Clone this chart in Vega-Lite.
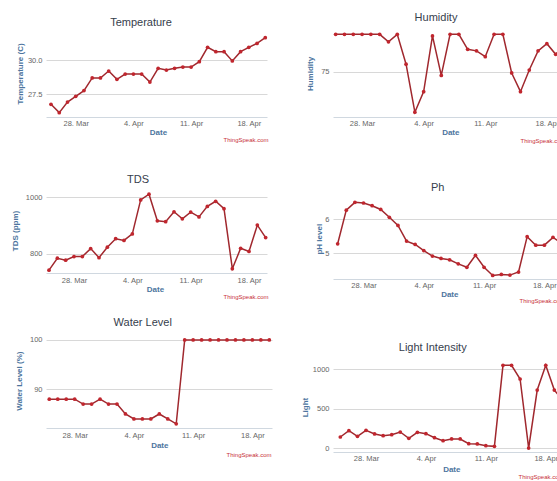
{
  "$schema": "https://vega.github.io/schema/vega-lite/v6.json",
  "autosize": {"type": "none"},
  "padding": {"left": 46, "top": 30, "right": 520, "bottom": 460},
  "background": "white",
  "datasets": {
    "sensor": [
      {"d": "2017-03-25T00:00:00", "temp": 26.74, "hum": 82, "tds": 743, "ph": 5.28, "water": 88, "light": 143},
      {"d": "2017-03-26T00:00:00", "temp": 26.13, "hum": 82, "tds": 785, "ph": 6.27, "water": 88, "light": 223},
      {"d": "2017-03-27T00:00:00", "temp": 26.91, "hum": 82, "tds": 778, "ph": 6.50, "water": 88, "light": 151},
      {"d": "2017-03-28T00:00:00", "temp": 27.33, "hum": 82, "tds": 791, "ph": 6.48, "water": 88, "light": 227},
      {"d": "2017-03-29T00:00:00", "temp": 27.75, "hum": 82, "tds": 791, "ph": 6.40, "water": 87, "light": 181},
      {"d": "2017-03-30T00:00:00", "temp": 28.68, "hum": 82, "tds": 819, "ph": 6.29, "water": 87, "light": 160},
      {"d": "2017-03-31T00:00:00", "temp": 28.68, "hum": 80.6, "tds": 787, "ph": 6.06, "water": 88, "light": 172},
      {"d": "2017-04-01T00:00:00", "temp": 29.19, "hum": 82, "tds": 824, "ph": 5.82, "water": 87, "light": 206},
      {"d": "2017-04-02T00:00:00", "temp": 28.58, "hum": 76.4, "tds": 854, "ph": 5.36, "water": 87, "light": 126},
      {"d": "2017-04-03T00:00:00", "temp": 28.97, "hum": 67.4, "tds": 848, "ph": 5.26, "water": 85, "light": 202},
      {"d": "2017-04-04T00:00:00", "temp": 28.97, "hum": 71.25, "tds": 871, "ph": 5.08, "water": 84, "light": 185},
      {"d": "2017-04-05T00:00:00", "temp": 28.97, "hum": 81.7, "tds": 991, "ph": 4.92, "water": 84, "light": 134},
      {"d": "2017-04-06T00:00:00", "temp": 28.38, "hum": 74.3, "tds": 1011, "ph": 4.85, "water": 84, "light": 97},
      {"d": "2017-04-07T00:00:00", "temp": 29.39, "hum": 82, "tds": 917, "ph": 4.81, "water": 85, "light": 118},
      {"d": "2017-04-08T00:00:00", "temp": 29.26, "hum": 82, "tds": 914, "ph": 4.69, "water": 84, "light": 118},
      {"d": "2017-04-09T00:00:00", "temp": 29.39, "hum": 79.2, "tds": 949, "ph": 4.59, "water": 83, "light": 59},
      {"d": "2017-04-10T00:00:00", "temp": 29.48, "hum": 78.9, "tds": 924, "ph": 4.94, "water": 100, "light": 55},
      {"d": "2017-04-11T00:00:00", "temp": 29.48, "hum": 77.8, "tds": 948, "ph": 4.59, "water": 100, "light": 34},
      {"d": "2017-04-12T00:00:00", "temp": 29.88, "hum": 82, "tds": 931, "ph": 4.35, "water": 100, "light": 25},
      {"d": "2017-04-13T00:00:00", "temp": 30.93, "hum": 82, "tds": 968, "ph": 4.38, "water": 100, "light": 1046},
      {"d": "2017-04-14T00:00:00", "temp": 30.61, "hum": 74.75, "tds": 986, "ph": 4.36, "water": 100, "light": 1046},
      {"d": "2017-04-15T00:00:00", "temp": 30.61, "hum": 71.25, "tds": 960, "ph": 4.45, "water": 100, "light": 874},
      {"d": "2017-04-16T00:00:00", "temp": 29.93, "hum": 75.3, "tds": 748, "ph": 5.49, "water": 100, "light": 4},
      {"d": "2017-04-17T00:00:00", "temp": 30.61, "hum": 78.9, "tds": 820, "ph": 5.24, "water": 100, "light": 735},
      {"d": "2017-04-18T00:00:00", "temp": 30.93, "hum": 80.25, "tds": 809, "ph": 5.24, "water": 100, "light": 1046},
      {"d": "2017-04-19T00:00:00", "temp": 31.22, "hum": 78.25, "tds": 902, "ph": 5.47, "water": 100, "light": 735},
      {"d": "2017-04-20T00:00:00", "temp": 31.64, "hum": 80, "tds": 858, "ph": 5.30, "water": 100, "light": 600}
    ]
  },
  "data": {"name": "sensor"},
  "columns": 2,
  "bounds": "flush",
  "spacing": {"row": 52, "column": 61},
  "concat": [
    {
      "width": 221, "height": 87,
      "title": {"text": "Temperature", "dx": -15.5, "dy": 2},
      "encoding": {
        "y": {"field": "temp", "type": "quantitative", "scale": {"domain": [25.809, 32.206], "nice": false, "zero": false},
              "axis": {"values": [27.5, 30], "format": ".1f", "title": "Temperature (C)", "titleX": -26, "titleY": 43.5}}
      },
      "layer": [
        {"mark": {"type": "line", "color": "#a0282e", "strokeWidth": 1.5},
         "encoding": {"x": {"field": "d", "type": "temporal",
           "scale": {"domain": [{"year": 2017, "month": 3, "date": 24, "hours": 9, "minutes": 27}, {"year": 2017, "month": 4, "date": 20, "hours": 5}], "nice": false},
           "axis": {"values": [{"year": 2017, "month": 3, "date": 28}, {"year": 2017, "month": 4, "date": 4}, {"year": 2017, "month": 4, "date": 11}, {"year": 2017, "month": 4, "date": 18}],
                    "format": "%-d. %b", "labelFlush": false, "labelPadding": 6, "title": "Date", "titleX": 112, "titleY": 15}}}},
        {"mark": {"type": "point", "filled": true, "color": "#c0262e", "size": 14, "opacity": 1},
         "encoding": {"x": {"field": "d", "type": "temporal",
           "scale": {"domain": [{"year": 2017, "month": 3, "date": 24, "hours": 9, "minutes": 27}, {"year": 2017, "month": 4, "date": 20, "hours": 5}], "nice": false},
           "axis": {"orient": "bottom", "labels": false, "domain": false, "title": "ThingSpeak.com", "titleX": 177, "titleY": 22, "titleAlign": "left", "titleColor": "#c8303a", "titleFontSize": 6, "titleFontWeight": "normal"}}}}
      ],
      "resolve": {"axis": {"x": "independent"}}
    },
    {
      "width": 238, "height": 87,
      "title": {"text": "Humidity", "dx": -16, "dy": -3},
      "encoding": {
        "y": {"field": "hum", "type": "quantitative", "scale": {"domain": [66.5, 82.81], "nice": false, "zero": false},
              "axis": {"values": [75], "title": "Humidity", "titleX": -23, "titleY": 43.5}}
      },
      "layer": [
        {"mark": {"type": "line", "color": "#a0282e", "strokeWidth": 1.5},
         "encoding": {"x": {"field": "d", "type": "temporal",
           "scale": {"domain": [{"year": 2017, "month": 3, "date": 24, "hours": 16, "minutes": 43}, {"year": 2017, "month": 4, "date": 20, "hours": 17, "minutes": 48}], "nice": false},
           "axis": {"values": [{"year": 2017, "month": 3, "date": 28}, {"year": 2017, "month": 4, "date": 4}, {"year": 2017, "month": 4, "date": 11}, {"year": 2017, "month": 4, "date": 18}],
                    "format": "%-d. %b", "labelFlush": false, "labelPadding": 6.3, "title": "Date", "titleX": 117.3, "titleY": 15.3}}}},
        {"mark": {"type": "point", "filled": true, "color": "#c0262e", "size": 14, "opacity": 1},
         "encoding": {"x": {"field": "d", "type": "temporal",
           "scale": {"domain": [{"year": 2017, "month": 3, "date": 24, "hours": 16, "minutes": 43}, {"year": 2017, "month": 4, "date": 20, "hours": 17, "minutes": 48}], "nice": false},
           "axis": {"orient": "bottom", "labels": false, "domain": false, "title": "ThingSpeak.com", "titleX": 187, "titleY": 23, "titleAlign": "left", "titleColor": "#c8303a", "titleFontSize": 6, "titleFontWeight": "normal"}}}}
      ],
      "resolve": {"axis": {"x": "independent"}}
    },
    {
      "width": 221, "height": 104,
      "title": {"text": "TDS", "dx": -18.5, "dy": 20},
      "encoding": {
        "y": {"field": "tds", "type": "quantitative", "scale": {"domain": [732.9, 1100], "nice": false, "zero": false},
              "axis": {"values": [800, 1000], "format": "d", "title": "TDS (ppm)", "titleX": -31, "titleY": 61.5}}
      },
      "layer": [
        {"mark": {"type": "line", "color": "#a0282e", "strokeWidth": 1.5},
         "encoding": {"x": {"field": "d", "type": "temporal",
           "scale": {"domain": [{"year": 2017, "month": 3, "date": 24, "hours": 15, "minutes": 22}, {"year": 2017, "month": 4, "date": 20, "hours": 3, "minutes": 50}], "nice": false},
           "axis": {"values": [{"year": 2017, "month": 3, "date": 28}, {"year": 2017, "month": 4, "date": 4}, {"year": 2017, "month": 4, "date": 11}, {"year": 2017, "month": 4, "date": 18}],
                    "format": "%-d. %b", "labelFlush": false, "labelPadding": 7, "title": "Date", "titleX": 109, "titleY": 16.3}}}},
        {"mark": {"type": "point", "filled": true, "color": "#c0262e", "size": 14, "opacity": 1},
         "encoding": {"x": {"field": "d", "type": "temporal",
           "scale": {"domain": [{"year": 2017, "month": 3, "date": 24, "hours": 15, "minutes": 22}, {"year": 2017, "month": 4, "date": 20, "hours": 3, "minutes": 50}], "nice": false},
           "axis": {"orient": "bottom", "labels": false, "domain": false, "title": "ThingSpeak.com", "titleX": 177, "titleY": 23.7, "titleAlign": "left", "titleColor": "#c8303a", "titleFontSize": 6, "titleFontWeight": "normal"}}}}
      ],
      "resolve": {"axis": {"x": "independent"}}
    },
    {
      "width": 234, "height": 110,
      "title": {"text": "Ph", "dx": -12.3, "dy": 28},
      "encoding": {
        "y": {"field": "ph", "type": "quantitative", "scale": {"domain": [4.245, 7.48], "nice": false, "zero": false},
              "axis": {"values": [5, 6], "format": "d", "title": "pH level", "titleX": -13.7, "titleY": 69.7}}
      },
      "layer": [
        {"mark": {"type": "line", "color": "#a0282e", "strokeWidth": 1.5},
         "encoding": {"x": {"field": "d", "type": "temporal",
           "scale": {"domain": [{"year": 2017, "month": 3, "date": 24, "hours": 11}, {"year": 2017, "month": 4, "date": 20, "hours": 15, "minutes": 2}], "nice": false},
           "axis": {"values": [{"year": 2017, "month": 3, "date": 28}, {"year": 2017, "month": 4, "date": 4}, {"year": 2017, "month": 4, "date": 11}, {"year": 2017, "month": 4, "date": 18}],
                    "format": "%-d. %b", "labelFlush": false, "labelPadding": 6, "title": "Date", "titleX": 116.3, "titleY": 15}}}},
        {"mark": {"type": "point", "filled": true, "color": "#c0262e", "size": 14, "opacity": 1},
         "encoding": {"x": {"field": "d", "type": "temporal",
           "scale": {"domain": [{"year": 2017, "month": 3, "date": 24, "hours": 11}, {"year": 2017, "month": 4, "date": 20, "hours": 15, "minutes": 2}], "nice": false},
           "axis": {"orient": "bottom", "labels": false, "domain": false, "title": "ThingSpeak.com", "titleX": 186, "titleY": 21.7, "titleAlign": "left", "titleColor": "#c8303a", "titleFontSize": 6, "titleFontWeight": "normal"}}}}
      ],
      "resolve": {"axis": {"x": "independent"}}
    },
    {
      "width": 226, "height": 97,
      "title": {"text": "Water Level", "dx": -16.3, "dy": 1},
      "encoding": {
        "y": {"field": "water", "type": "quantitative", "scale": {"domain": [82.16, 101.82], "nice": false, "zero": false},
              "axis": {"values": [90, 100], "format": "d", "title": "Water Level (%)", "titleX": -26.7, "titleY": 49.7}}
      },
      "layer": [
        {"mark": {"type": "line", "color": "#a0282e", "strokeWidth": 1.5},
         "encoding": {"x": {"field": "d", "type": "temporal",
           "scale": {"domain": [{"year": 2017, "month": 3, "date": 24, "hours": 14, "minutes": 38}, {"year": 2017, "month": 4, "date": 20, "hours": 7, "minutes": 40}], "nice": false},
           "axis": {"values": [{"year": 2017, "month": 3, "date": 28}, {"year": 2017, "month": 4, "date": 4}, {"year": 2017, "month": 4, "date": 11}, {"year": 2017, "month": 4, "date": 18}],
                    "format": "%-d. %b", "labelFlush": false, "labelPadding": 7.3, "title": "Date", "titleX": 113.3, "titleY": 17.3}}}},
        {"mark": {"type": "point", "filled": true, "color": "#c0262e", "size": 14, "opacity": 1},
         "encoding": {"x": {"field": "d", "type": "temporal",
           "scale": {"domain": [{"year": 2017, "month": 3, "date": 24, "hours": 14, "minutes": 38}, {"year": 2017, "month": 4, "date": 20, "hours": 7, "minutes": 40}], "nice": false},
           "axis": {"orient": "bottom", "labels": false, "domain": false, "title": "ThingSpeak.com", "titleX": 180, "titleY": 26.3, "titleAlign": "left", "titleColor": "#c8303a", "titleFontSize": 6, "titleFontWeight": "normal"}}}}
      ],
      "resolve": {"axis": {"x": "independent"}}
    },
    {
      "width": 235, "height": 121,
      "title": {"text": "Light Intensity", "dx": -17.8, "dy": 26},
      "encoding": {
        "y": {"field": "light", "type": "quantitative", "scale": {"domain": [-46, 1479], "nice": false, "zero": false},
              "axis": {"values": [0, 500, 1000], "format": "d", "title": "Light", "titleX": -28, "titleY": 76}}
      },
      "layer": [
        {"mark": {"type": "line", "color": "#a0282e", "strokeWidth": 1.5},
         "encoding": {"x": {"field": "d", "type": "temporal",
           "scale": {"domain": [{"year": 2017, "month": 3, "date": 24, "hours": 3, "minutes": 26}, {"year": 2017, "month": 4, "date": 20, "hours": 14, "minutes": 18}], "nice": false},
           "axis": {"values": [{"year": 2017, "month": 3, "date": 28}, {"year": 2017, "month": 4, "date": 4}, {"year": 2017, "month": 4, "date": 11}, {"year": 2017, "month": 4, "date": 18}],
                    "format": "%-d. %b", "labelFlush": false, "labelPadding": 6.3, "title": "Date", "titleX": 118.3, "titleY": 17.3}}}},
        {"mark": {"type": "point", "filled": true, "color": "#c0262e", "size": 14, "opacity": 1},
         "encoding": {"x": {"field": "d", "type": "temporal",
           "scale": {"domain": [{"year": 2017, "month": 3, "date": 24, "hours": 3, "minutes": 26}, {"year": 2017, "month": 4, "date": 20, "hours": 14, "minutes": 18}], "nice": false},
           "axis": {"orient": "bottom", "labels": false, "domain": false, "title": "ThingSpeak.com", "titleX": 185, "titleY": 24.7, "titleAlign": "left", "titleColor": "#c8303a", "titleFontSize": 6, "titleFontWeight": "normal"}}}}
      ],
      "resolve": {"axis": {"x": "independent"}}
    }
  ],
  "config": {
    "view": {"stroke": null},
    "font": "Liberation Sans",
    "title": {"anchor": "middle", "frame": "group", "offset": 0, "baseline": "middle", "fontSize": 11, "fontWeight": "normal", "color": "#36404c", "font": "Liberation Sans"},
    "axis": {"labelFont": "Liberation Sans", "labelFontSize": 7.5, "labelColor": "#666666", "titleFont": "Liberation Sans", "titleFontSize": 8, "titleFontWeight": "bold", "titleColor": "#4d759e", "ticks": false, "tickSize": 0, "domain": false, "grid": false},
    "axisX": {"domain": true, "domainColor": "#d0d8e0", "labelBaseline": "middle", "titleBaseline": "middle", "titleAlign": "center", "labelOverlap": false},
    "axisY": {"grid": true, "gridColor": "#d8d8d8", "labelPadding": 4, "labelBaseline": "middle", "titleAngle": 270, "titleBaseline": "middle", "titleAlign": "center"}
  }
}
